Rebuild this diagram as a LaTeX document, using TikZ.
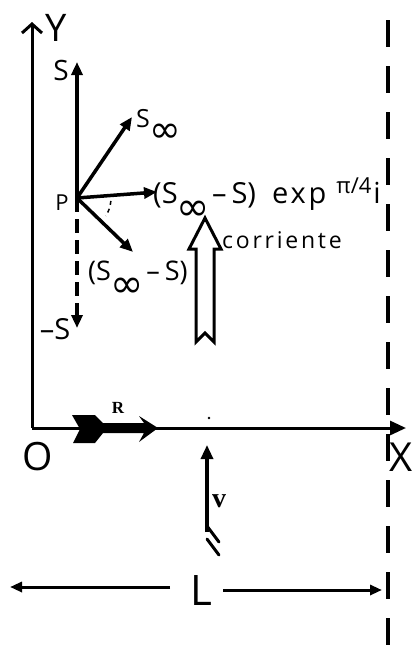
\documentclass[tikz,border=0pt]{standalone}
\usepackage{fontspec}
\setmainfont{Open Sans}
\newfontfamily\djv{DejaVu Sans}
\newfontfamily\serifb{Liberation Serif}
\usetikzlibrary{arrows.meta}
\newcommand\infsub[2]{\raisebox{#2}{\djv\fontsize{#1}{#1}\selectfont ∞}}
\newcommand\fs[1]{\fontsize{#1}{#1}\selectfont}
\begin{document}
\begin{tikzpicture}[x=1pt,y=-1pt,
  axisline/.style={line width=3pt},
  vec/.style={line width=3.5pt,-{Triangle[length=13pt,width=11pt]}},
  lab/.style={inner sep=0pt,anchor=base},
  labw/.style={inner sep=0pt,anchor=base west},
  dashv/.style={line width=4pt,dash pattern=on 27pt off 19pt},
]
\useasboundingbox (0,0) rectangle (414,662);
% coordinates
\coordinate (O) at (32,428);
\coordinate (Ytip) at (32,22);
\coordinate (Xtip) at (406,428);
\coordinate (P) at (77,198);
\coordinate (Stip) at (77,62);
\coordinate (Sinf) at (132,117);
\coordinate (Hz) at (157,192);
\coordinate (Low) at (133,252);
\coordinate (mS) at (77,328);
\coordinate (Dtop) at (388,20);
\coordinate (Dbot) at (388,662);
\coordinate (Vtail) at (207,532);
\coordinate (Vtip) at (207,445);
\coordinate (La) at (170,587);
\coordinate (Lb) at (10,587);
\coordinate (Lc) at (223,590);
\coordinate (Ld) at (382,590);

% dashed boundary
\draw[dashv] (Dtop) -- (Dbot);

% axes
\draw[axisline,-{Straight Barb[length=9pt,width=20pt]}] (O) -- (Ytip);
\draw[axisline,-{Triangle[length=16pt,width=14pt]}] (O) -- (Xtip);

% vectors at P
\draw[vec] (P) -- (Stip);
\draw[vec] (P) -- (Sinf);
\draw[vec] (P) -- (Hz);
\draw[vec] (P) -- (Low);
\draw[vec,dash pattern=on 14pt off 7pt] (P) -- (mS);
\draw[line width=1.5pt,dash pattern=on 4pt off 4pt] ([shift={(5:34)}]P) arc[start angle=5,end angle=32,radius=34];

% labels
\node[lab] (Ylab) at (56,41) {\fs{38}Y};
\node[lab] (Xlab) at (401,471) {\fs{40}X};
\node[lab] (Olab) at (38,470) {\fs{39}O};
\node[lab] (Slab) at (61,80) {\fs{28}S};
\node[lab] (Plab) at (62,210) {\fs{22}P};
\node[labw] (Sinflab) at (136,127) {\fs{25}S\infsub{38}{-15pt}};
\node[labw] (hzlab) at (153,203) {\fs{29}(S\kern-1pt\infsub{40}{-17pt}\hspace{2pt}–\hspace{5pt}S)\hspace{16pt}{\addfontfeature{LetterSpace=10}exp}\hspace{10pt}\raisebox{10pt}{\fs{22}π/4}\hspace{2pt}i};
\node[labw] (lowlab) at (88,280) {\fs{27}(S\kern-1pt\infsub{40}{-17pt}\hspace{3pt}–\hspace{5pt}S)};
\node[lab] (mSlab) at (55,339) {\fs{29}–S};

% current arrow
\draw[line width=3pt,line join=miter] (205,218) -- (221,249) -- (214,249) -- (214,342) -- (205,333) -- (196,342) -- (196,249) -- (189,249) -- cycle;
\node[labw] (corr) at (222,248) {\addfontfeature{LetterSpace=12}\fs{23}corriente};

% R arrow
\fill (72,415) -- (95,415) -- (103,423) -- (144,423) -- (139,416) -- (158,428) -- (139,442) -- (144,433) -- (103,433) -- (95,443) -- (73,443) -- (80,429) -- cycle;
\node[lab] (Rlab) at (118,413) {\serifb\bfseries\fs{17}R};
\fill (209,418) circle[radius=1.3];

% v arrow
\draw[line width=3.2pt,-{Triangle[length=14pt,width=12pt]}] (Vtail) -- (Vtip);
\draw[line width=3pt,line cap=round] (207,526) -- (219,542);
\draw[line width=3pt,line cap=round] (207,539) -- (219,555);
\node[lab] (vlab) at (219,507) {\serifb\bfseries\fs{28}v};

% L dimension
\draw[line width=3pt,-{Triangle[length=12pt,width=10pt]}] (La) -- (Lb);
\draw[line width=3pt,-{Triangle[length=12pt,width=10pt]}] (Lc) -- (Ld);
\node[lab] (Llab) at (201,605) {\fs{42}L};
\end{tikzpicture}
\end{document}
